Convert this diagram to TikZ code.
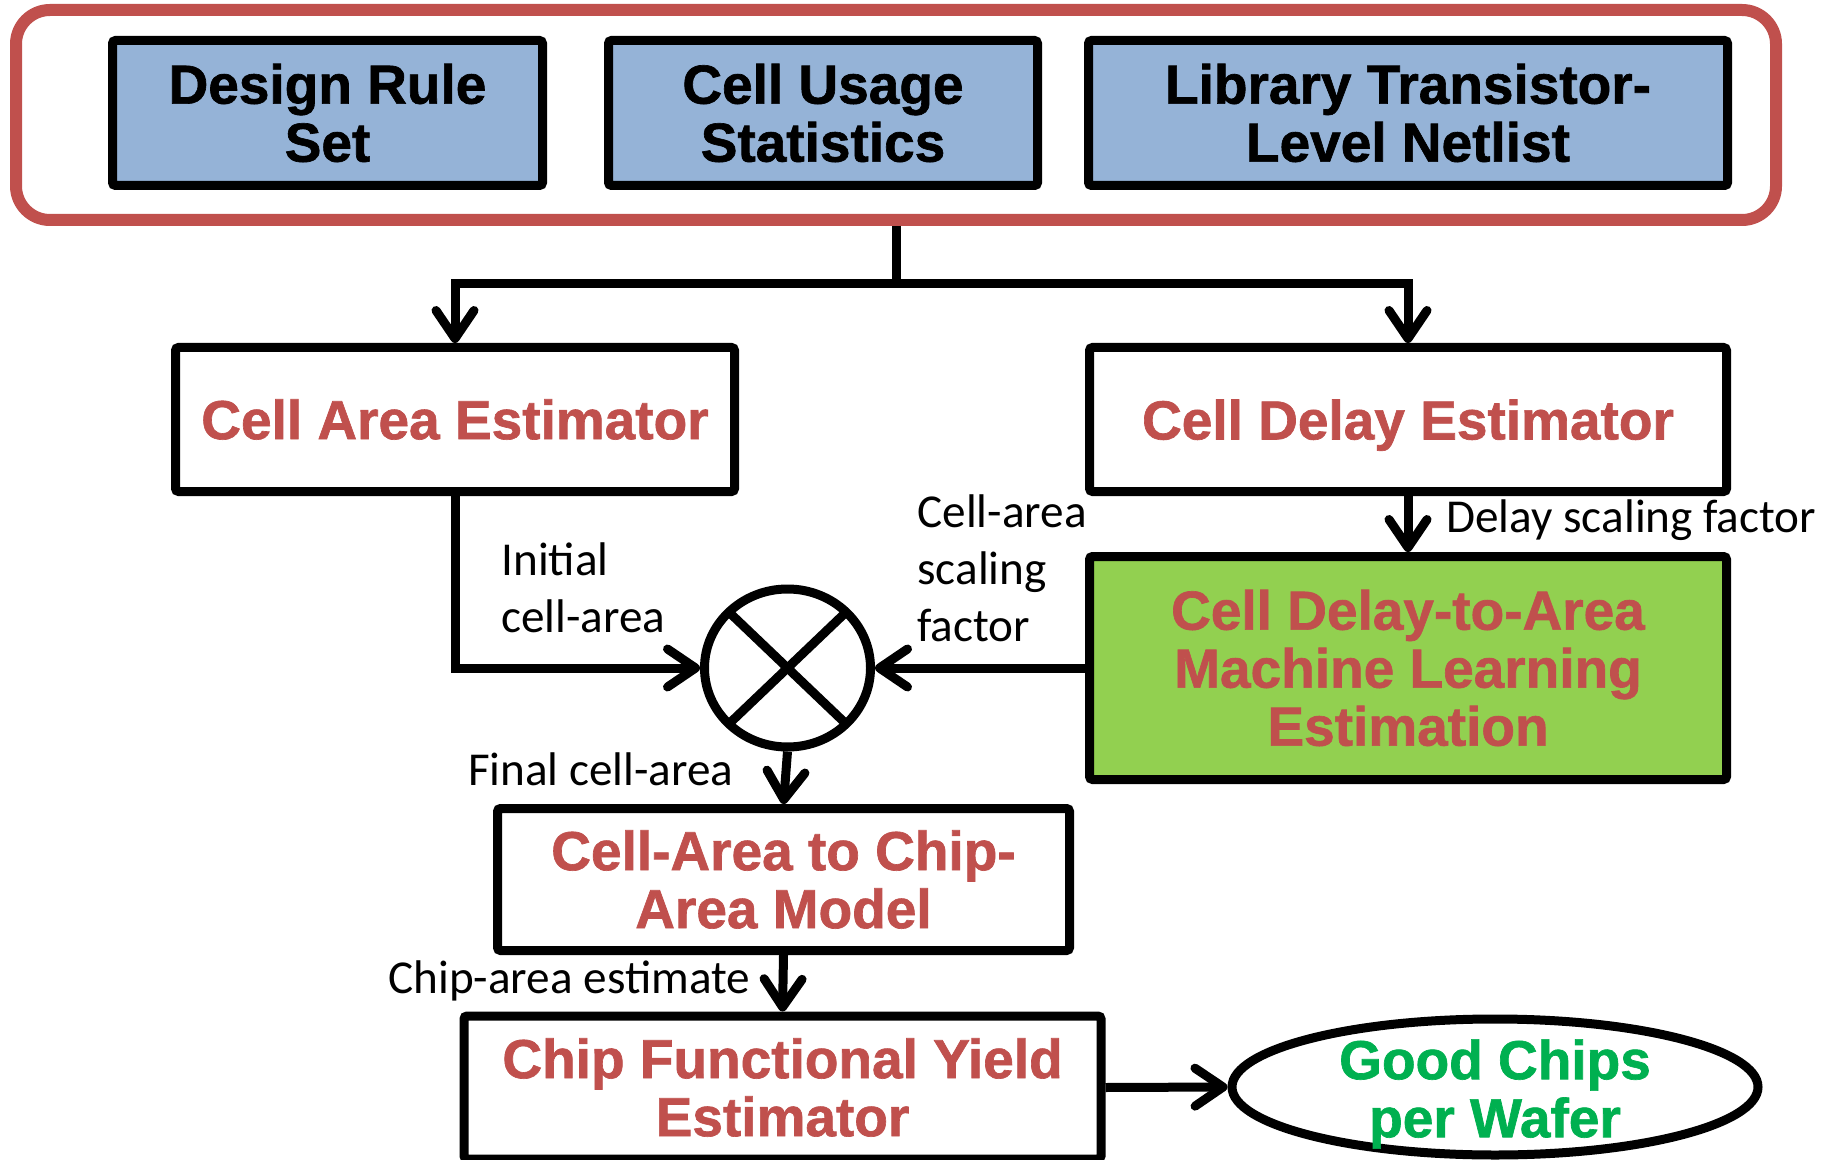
\documentclass[tikz,border=0pt]{standalone}
\usepackage{fontspec}
\setmainfont{Liberation Sans}[BoldFeatures={FakeBold=1.2}]
\newfontfamily\lblfont{Carlito}
\usetikzlibrary{arrows.meta,shapes.geometric}
\definecolor{boxred}{HTML}{C0504D}
\definecolor{boxblue}{HTML}{95B3D7}
\definecolor{boxgreen}{HTML}{92D050}
\definecolor{txtgreen}{HTML}{00B050}
\begin{document}
\begin{tikzpicture}[x=0.5pt,y=-0.5pt,
  boxtext/.style={font=\fontsize{27.5}{29}\selectfont\bfseries, align=center},
  inbox/.style={draw=black, line width=4.5pt, fill=boxblue, rounded corners=1.5pt, inner sep=0pt, boxtext, text=black, minimum height=72.5pt},
  procbox/.style={draw=black, line width=4.5pt, fill=white, rounded corners=1.5pt, inner sep=0pt, boxtext, text=boxred},
  conn/.style={line width=4.5pt, draw=black},
  arr/.style={conn, -{Straight Barb[length=14pt,width=19pt,round]}},
  lbl/.style={font=\lblfont\fontsize{23.6}{28.5}\selectfont, inner sep=0pt}
]
\useasboundingbox (0,0) rectangle (1831,1160);

% input group
\node[draw=boxred, line width=6pt, rounded corners=17pt, minimum width=880pt, minimum height=105pt, inner sep=0pt] (inputs) at (896,115) {};
\node[inbox, minimum width=215pt] (drs) at (327.5,113) {Design Rule\\Set};
\node[inbox, minimum width=214.5pt] (cus) at (823,113) {Cell Usage\\Statistics};
\node[inbox, minimum width=319.5pt] (lib) at (1408,113) {Library Transistor-\\Level Netlist};

% estimators
\node[procbox, minimum width=279.5pt, minimum height=72pt] (cae) at (455,419.5) {Cell Area Estimator};
\node[procbox, minimum width=318.5pt, minimum height=72pt, text depth=0pt] (cde) at (1408,419.5) {Cell Delay Estimator};
\node[procbox, fill=boxgreen, minimum width=318.5pt, minimum height=111.5pt] (ml) at (1408,668) {Cell Delay-to-Area\\Machine Learning\\Estimation};

% multiplier
\node[draw=black, ellipse, line width=4.5pt, minimum width=83pt, minimum height=79pt, inner sep=0pt] (mult) at (787.5,668) {};
\draw[conn, shorten <=3pt, shorten >=3pt] (mult.north west) -- (mult.south east);
\draw[conn, shorten <=3pt, shorten >=3pt] (mult.north east) -- (mult.south west);

% lower chain
\node[procbox, minimum width=286pt, minimum height=71pt] (cac) at (783.5,879.5) {Cell-Area to Chip-\\Area Model};
\node[procbox, minimum width=318.5pt, minimum height=71.5pt] (cfy) at (782.5,1087.5) {Chip Functional Yield\\Estimator};
\node[draw=black, ellipse, line width=4.5pt, minimum width=263pt, minimum height=68pt, inner sep=0pt,
  label={[boxtext, text=txtgreen, inner sep=0pt, yshift=-3.5pt]center:Good Chips\\per Wafer}] (good) at (1495,1087) {};

% connectors
\coordinate (split) at (896,284);
\draw[conn] (inputs.south) -- (split);
\draw[arr] (split) -| (cae.north);
\draw[arr] (split) -| (cde.north);
\draw[arr] (cde.south) -- (ml.north);
\draw[arr] (cae.south) |- (mult.west);
\draw[arr] (ml.west) -- (mult.east);
\draw[arr] (mult.south) -- (cac.north);
\draw[arr] (cac.south) -- (cfy.north);
\draw[arr] (cfy.east) -- (good.west);

% labels
\node[lbl, anchor=base west] (ldelay) at (1446,532) {Delay scaling factor};
\node[lbl, anchor=base west] (linit) at (501,575) {\begin{tabular}[t]{@{}l@{}}Initial\\cell-area\end{tabular}};
\node[lbl, anchor=base west] (lscale) at (917,527) {\begin{tabular}[t]{@{}l@{}}Cell-area\\scaling\\factor\end{tabular}};
\node[lbl, anchor=base east] (lfinal) at (734,785) {Final cell-area};
\node[lbl, anchor=base west] (lchip) at (388,993) {Chip-area estimate};
\end{tikzpicture}
\end{document}
